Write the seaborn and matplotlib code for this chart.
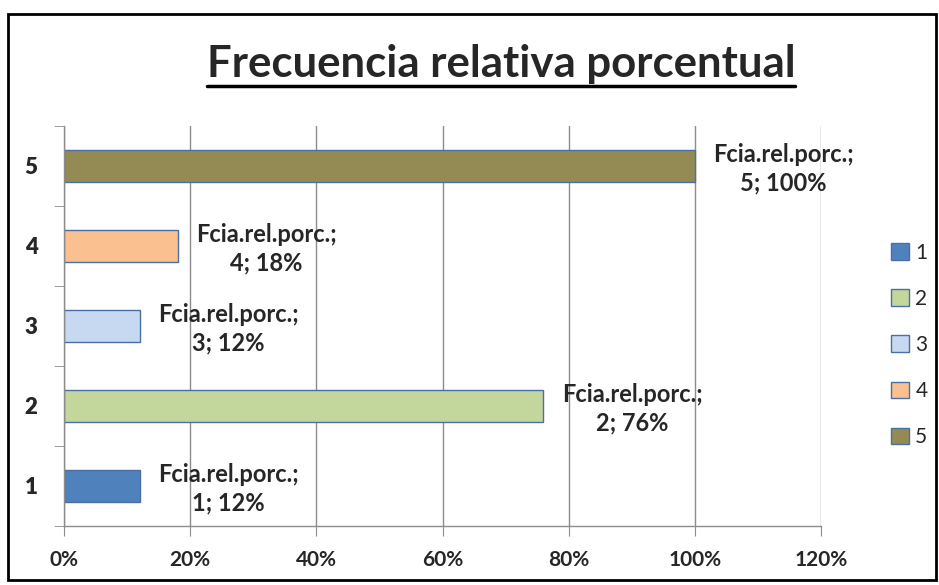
import matplotlib
matplotlib.use("Agg")
import matplotlib.pyplot as plt
import matplotlib.patches as mpatches
from matplotlib.lines import Line2D
from matplotlib.ticker import PercentFormatter
import pandas as pd
import seaborn as sns

categories = ["1", "2", "3", "4", "5"]
percentages = [12, 76, 12, 18, 100]
label_prefix = "Fcia.rel.porc.;"
bar_colors = ["#4F81BD", "#C3D69B", "#C6D9F1", "#FAC090", "#948A54"]
x_ticks = [0, 20, 40, 60, 80, 100, 120]

df = pd.DataFrame({"categoria": categories, "valor": percentages})
palette = dict(zip(categories, bar_colors))

sns.set_style("white")
plt.rcParams["font.family"] = ["Lato", "DejaVu Sans"]

fig = plt.figure(figsize=(9.39, 5.85), dpi=100)
ax = fig.add_axes([64 / 939, 1 - 526 / 585, 757 / 939, 400 / 585])

sns.barplot(data=df, x="valor", y="categoria", hue="categoria",
            order=categories[::-1], hue_order=categories, palette=palette,
            orient="h", width=0.39, edgecolor="#4A6FA5", linewidth=1,
            legend=False, ax=ax, saturation=1)

ax.set_xlim(0, 120)
ax.set_xticks(x_ticks)
ax.xaxis.set_major_formatter(PercentFormatter(decimals=0))
ax.grid(axis="x", color="#8C8C8C", linewidth=1)
ax.grid(axis="y", visible=False)
ax.set_axisbelow(True)

# labels on band centers, tick marks on band boundaries
n = len(categories)
ax.set_yticks(range(n), labels=categories[::-1], fontweight="heavy", fontsize=16)
ax.set_yticks([i - 0.5 for i in range(n + 1)], minor=True)
ax.set_ylim(n - 0.5, -0.5)
ax.tick_params(axis="y", which="major", length=0, pad=19)
ax.tick_params(axis="y", which="minor", length=7, color="#8C8C8C", direction="out", left=True)
ax.tick_params(axis="x", length=7, color="#8C8C8C", direction="out", bottom=True, pad=10, labelsize=15)
for lab in ax.get_xticklabels():
    lab.set_fontweight("bold")
for t in ax.yaxis.get_major_ticks():
    t.label1.set_fontweight("heavy")

for side in ["top", "right"]:
    ax.spines[side].set_visible(False)
for side in ["left", "bottom"]:
    ax.spines[side].set_color("#8C8C8C")
    ax.spines[side].set_linewidth(1)
ax.set_xlabel("")
ax.set_ylabel("")

# data labels
for cat, val in zip(categories, percentages):
    ypos = categories[::-1].index(cat)
    ax.annotate(f"{label_prefix}\n{cat}; {val}%", xy=(val, ypos), xytext=(64, -2),
                textcoords="offset points", ha="center", va="center",
                fontsize=17, fontweight="bold", linespacing=1.3, annotation_clip=False)

# legend
handles = [mpatches.Patch(facecolor=palette[c], edgecolor="#4A6FA5", label=c) for c in categories]
fig.legend(handles=handles, loc="center left", bbox_to_anchor=(883 / 939, 1 - 345 / 585),
           borderaxespad=0, frameon=False, fontsize=15, labelspacing=1.25,
           handlelength=0.85, handleheight=0.85, handletextpad=0.3)

# title with underline
title = fig.text(501 / 939, 1 - 64 / 585, "Frecuencia relativa porcentual",
                 ha="center", va="center", fontsize=31.5, fontweight="bold")
fig.canvas.draw()
bb = title.get_window_extent().transformed(fig.transFigure.inverted())
fig.add_artist(Line2D([bb.x0, bb.x1], [bb.y0 - 0.004, bb.y0 - 0.004],
                      transform=fig.transFigure, color="black", linewidth=2.5))

# chart border
fig.add_artist(mpatches.Rectangle((8 / 939, 1 - 580 / 585), 928 / 939, 566 / 585,
                                  transform=fig.transFigure, fill=False,
                                  edgecolor="black", linewidth=2))

fig.savefig("out.png", dpi=100)
